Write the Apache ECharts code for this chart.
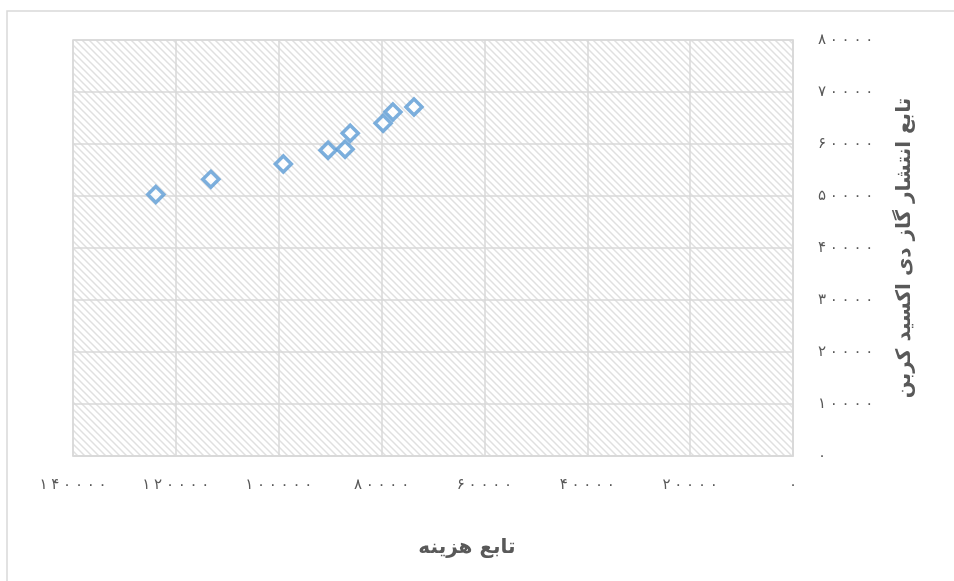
<!DOCTYPE html>
<html>
<head>
<meta charset="utf-8">
<script src="https://cdn.jsdelivr.net/npm/echarts@6/dist/echarts.min.js"></script>
<style>
  html, body { margin: 0; padding: 0; background: #fff; }
  #chart { width: 954px; height: 581px; }
</style>
</head>
<body>
<div id="chart"></div>
<script>
// cost function (x) vs CO2 emission function (y)
var costValues = [123900, 113200, 99100, 90400, 87100, 86100, 79700, 77800, 73700];
var emissionValues = [50300, 53200, 56150, 58800, 59000, 62050, 64000, 66150, 67100];
var xName = 'تابع هزینه';
var yName = 'تابع انتشار گاز دی اکسید کربن';
var persianDigits = '۰۱۲۳۴۵۶۷۸۹';

function toPersian(v) {
  return String(v).split('').map(function (d) {
    return persianDigits[+d];
  }).join('\u2005');
}

// hatched fill for the plot area
var tile = document.createElement('canvas');
tile.width = 7; tile.height = 7;
var ctx = tile.getContext('2d');
ctx.fillStyle = '#fff';
ctx.fillRect(0, 0, 7, 7);
ctx.strokeStyle = '#e0e0e0';
ctx.lineWidth = 1.5;
ctx.beginPath();
ctx.moveTo(-1, -1); ctx.lineTo(8, 8);
ctx.moveTo(-1, 6); ctx.lineTo(1, 8);
ctx.moveTo(6, -1); ctx.lineTo(8, 1);
ctx.stroke();

var points = costValues.map(function (c, i) { return [c, emissionValues[i]]; });

var chart = echarts.init(document.getElementById('chart'));
var gray = '#d9d9d9';
var textColor = '#595959';
chart.setOption({
  animation: false,
  backgroundColor: '#fff',
  graphic: [{
    type: 'rect',
    shape: { x: 7, y: 11, width: 960, height: 590 },
    style: { fill: 'none', stroke: '#d9d9d9', lineWidth: 1.5 },
    silent: true
  }],
  grid: {
    left: 73, right: 161, top: 40, bottom: 125,
    show: true,
    backgroundColor: { image: tile, repeat: 'repeat' },
    borderColor: gray,
    borderWidth: 1.5
  },
  xAxis: {
    type: 'value',
    inverse: true,
    min: 0, max: 140000, interval: 20000,
    name: xName,
    nameLocation: 'middle',
    nameGap: 82,
    nameTextStyle: {
      fontFamily: 'DejaVu Sans', fontWeight: 'bold', fontSize: 20,
      color: textColor, padding: [0, 0, 0, 68]
    },
    axisLine: { show: true, lineStyle: { color: gray, width: 1.5 } },
    axisTick: { show: false },
    axisLabel: {
      margin: 22,
      color: textColor, fontFamily: 'DejaVu Sans', fontSize: 15,
      formatter: toPersian
    },
    splitLine: { show: true, lineStyle: { color: gray, width: 1.5 } }
  },
  yAxis: {
    type: 'value',
    position: 'right',
    min: 0, max: 80000, interval: 10000,
    name: yName,
    nameLocation: 'middle',
    nameRotate: 90,
    nameGap: 102,
    nameTextStyle: {
      fontFamily: 'DejaVu Sans', fontWeight: 'bold', fontSize: 20, color: textColor
    },
    axisLine: { show: true, lineStyle: { color: gray, width: 1.5 } },
    axisTick: { show: false },
    axisLabel: {
      margin: 25,
      color: textColor, fontFamily: 'DejaVu Sans', fontSize: 15,
      formatter: toPersian
    },
    splitLine: { show: true, lineStyle: { color: gray, width: 1.5 } }
  },
  series: [{
    type: 'scatter',
    data: points,
    symbol: 'diamond',
    symbolSize: 16,
    itemStyle: { color: '#fff', borderColor: '#5b9bd5', borderWidth: 3.5 }
  }]
});
</script>
</body>
</html>
